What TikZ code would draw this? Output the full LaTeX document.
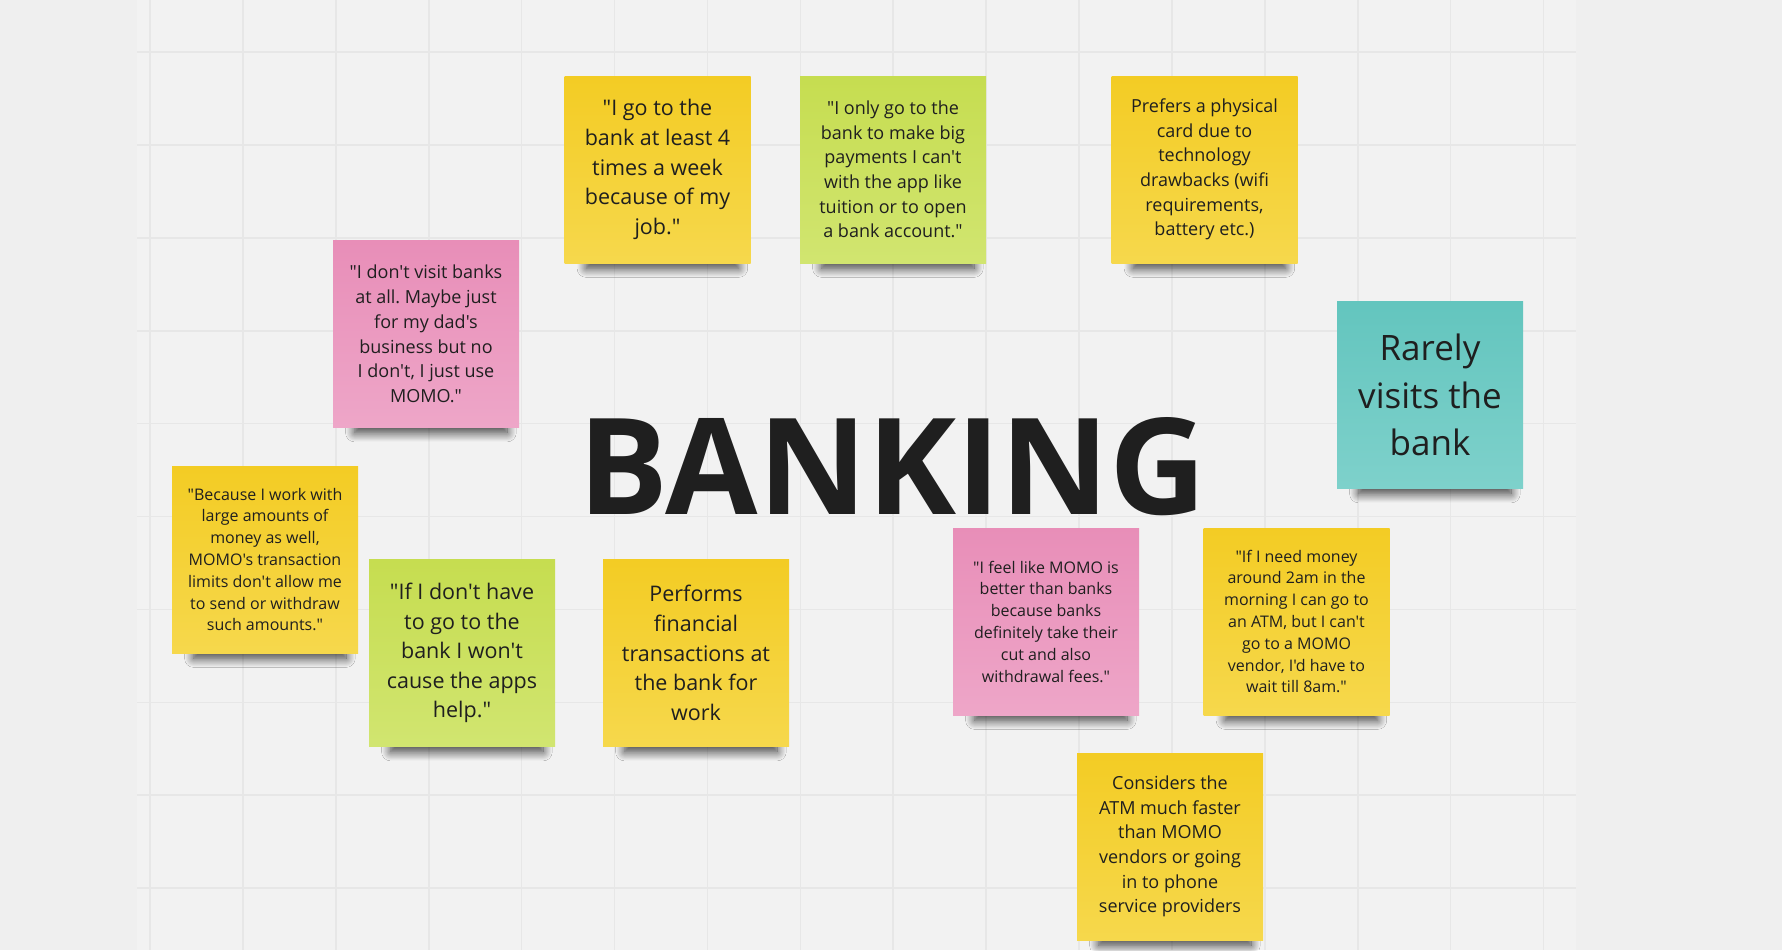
\documentclass[tikz,border=0pt]{standalone}
\usepackage{fontspec}
\setmainfont{Open Sans}[Ligatures=TeXOff]
\usetikzlibrary{shadows.blur}
\frenchspacing

\definecolor{boardbg}{HTML}{EFEFEF}
\definecolor{gridbg}{HTML}{F2F2F2}
\definecolor{gridline}{HTML}{E7E7E7}
\definecolor{yellowtop}{HTML}{F3CC24}
\definecolor{yellowbot}{HTML}{F6D84C}
\definecolor{greentop}{HTML}{C6DD50}
\definecolor{greenbot}{HTML}{D1E570}
\definecolor{pinktop}{HTML}{E88EB8}
\definecolor{pinkbot}{HTML}{EEA6C8}
\definecolor{tealtop}{HTML}{63C5BE}
\definecolor{tealbot}{HTML}{7ED1CB}
\definecolor{inktext}{HTML}{1F1F1F}

\begin{document}
\begin{tikzpicture}[
     x = 1pt, y = -1pt,
     sticky/.style = {minimum width = 186pt, minimum height = 187pt,
       inner sep = 0pt, align = center, text = inktext,
       blur shadow = {shadow xshift = 6pt, shadow yshift = -27pt,
         shadow scale = 0.82, shadow opacity = 75,
         shadow blur radius = 11pt, shadow blur steps = 16}},
     yellow sticky/.style = {sticky, top color = yellowtop, bottom color = yellowbot},
     green sticky/.style = {sticky, top color = greentop, bottom color = greenbot},
     pink sticky/.style = {sticky, top color = pinktop, bottom color = pinkbot},
     teal sticky/.style = {sticky, top color = tealtop, bottom color = tealbot},
     big words/.style = {font = \fontsize{21.5}{29.6}\selectfont},
     mid words/.style = {font = \fontsize{18}{24.7}\selectfont},
     small words/.style = {font = \fontsize{16}{21.8}\selectfont},
     huge words/.style = {font = \fontsize{35}{47.5}\selectfont}
    ]
    \useasboundingbox (0,0) rectangle (1782,950);
    \fill[boardbg] (0,0) rectangle (1782,950);
    \fill[gridbg] (137,0) rectangle (1576,950);
    \foreach \i in {0,...,15}
      \draw[gridline, line width = 1.6pt] ({150+92.9*\i},0) -- ({150+92.9*\i},950);
    \foreach \j in {0,...,9}
      \draw[gridline, line width = 1.6pt] (137,{52+92.9*\j}) -- (1576,{52+92.9*\j});

    \node[inktext, anchor = base, font = \fontsize{134}{134}\selectfont\bfseries]
      (banking) at (892.5,514) {BANKING};

    \node[yellow sticky, big words] (job) at (657.5,169.5)
      {"I go to the\\bank at least 4\\times a week\\because of my\\job."};
    \node[green sticky, mid words, right of = job, node distance = 235.5pt] (tuition)
      {"I only go to the\\bank to make big\\payments I can't\\with the app like\\tuition or to open\\a bank account."};
    \node[yellow sticky, mid words, right of = tuition, node distance = 311.5pt] (physical)
      {Prefers a physical\\card due to\\technology\\drawbacks (wifi\\requirements,\\battery etc.)};
    \node[pink sticky, mid words] (dads) at (426,334)
      {"I don't visit banks\\at all. Maybe just\\for my dad's\\business but no\\I don't, I just use\\MOMO."};
    \node[teal sticky, huge words] (rarely) at (1430,395)
      {Rarely\\visits the\\bank};

    \node[yellow sticky, small words] (limits) at (265,559.5)
      {"Because I work with\\large amounts of\\money as well,\\MOMO's transaction\\limits don't allow me\\to send or withdraw\\such amounts."};
    \node[green sticky, big words] (apps) at (462,653)
      {"If I don't have\\to go to the\\bank I won't\\cause the apps\\help."};
    \node[yellow sticky, big words, right of = apps, node distance = 234pt] (performs)
      {Performs\\financial\\transactions at\\the bank for\\work};
    \node[pink sticky, small words] (fees) at (1046,621.5)
      {"I feel like MOMO is\\better than banks\\because banks\\definitely take their\\cut and also\\withdrawal fees."};
    \node[yellow sticky, small words, right of = fees, node distance = 250.5pt] (night)
      {"If I need money\\around 2am in the\\morning I can go to\\an ATM, but I can't\\go to a MOMO\\vendor, I'd have to\\wait till 8am."};
    \node[yellow sticky, mid words] (faster) at (1170,846.5)
      {Considers the\\ATM much faster\\than MOMO\\vendors or going\\in to phone\\service providers};
   \end{tikzpicture}
\end{document}
